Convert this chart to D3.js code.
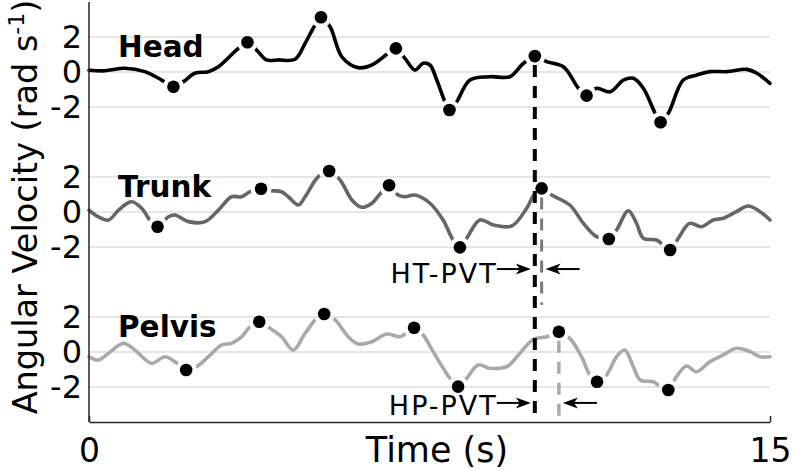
<!DOCTYPE html>
<html><head><meta charset="utf-8">
<script src="https://cdn.jsdelivr.net/npm/d3@7"></script>
<style>body{margin:0;background:#fff}svg{display:block}text{font-family:"DejaVu Sans",sans-serif}</style>
</head><body><svg id="c" width="792" height="471"></svg>
<script>
// ---- data ----
const xTicks = [0, 15];
const yTicks = [-2, 0, 2];
const panelNames = ["Head", "Trunk", "Pelvis"];
const headT = [0,0.35,0.79,1.23,1.60,2.08,2.33,2.63,2.85,3.29,3.69,3.91,4.17,4.54,4.76,4.98,5.31,5.57,5.93,6.23,6.59,6.96,7.18,7.36,7.51,7.66,7.84,8.10,8.39,8.83,9.27,9.57,10.08,10.45,10.78,11.18,11.48,11.77,11.99,12.21,12.47,12.76,13.09,13.39,13.68,14.05,14.49,14.71,15.0];
const headV = [0.1,0.07,0.21,0.02,-0.46,-0.55,-0.07,0.02,0.30,1.35,1.26,0.69,0.69,0.73,1.64,2.69,2.59,0.87,0.25,0.40,1.07,0.78,0.11,0.50,0.40,-0.46,-1.70,-1.70,-0.46,-0.27,-0.27,0.50,0.59,0.30,-0.93,-0.93,-1.13,-0.46,-0.36,-0.93,-2.36,-2.36,-0.46,-0.17,0.02,0.02,0.15,-0.07,-0.65];
const headPeakT = [1.86,3.49,5.11,6.76,7.94,9.82,10.96,12.59];
const headPeakV = [-0.84,1.70,3.13,1.35,-2.17,0.91,-1.35,-2.87];
const trunkT = [0,0.20,0.43,0.65,0.94,1.16,1.34,1.75,1.89,2.19,2.56,2.85,3.14,3.36,3.55,4.02,4.24,4.39,4.61,4.76,5.05,5.53,5.79,6.01,6.23,6.45,6.81,6.96,7.18,7.51,7.80,8.02,8.32,8.61,8.91,9.31,9.64,9.82,10.19,10.59,10.89,11.18,11.62,11.88,12.06,12.21,12.50,12.65,12.98,13.23,13.49,13.75,13.97,14.26,14.52,14.78,15.0];
const trunkV = [0.11,-0.27,-0.46,0.11,0.59,0.21,-0.46,-0.27,-0.17,-0.55,-0.55,0.11,0.87,0.87,1.16,1.22,1.16,0.87,0.40,0.87,2.02,1.83,0.69,0.27,0.50,1.16,0.97,0.87,0.97,0.50,-0.46,-1.60,-1.50,-0.46,-0.74,-0.80,0.21,1.07,0.97,0.40,-0.65,-1.41,-1.03,0.07,-0.65,-1.50,-1.60,-1.89,-1.50,-0.65,-0.84,-0.46,-0.36,0.02,0.34,0.02,-0.46];
const trunkPeakT = [1.51,3.79,5.29,6.61,8.17,9.97,11.45,12.80];
const trunkPeakV = [-0.84,1.33,2.34,1.53,-2.02,1.35,-1.54,-2.17];
const pelvisT = [0,0.20,0.43,0.76,1.01,1.38,1.67,1.89,2.37,2.63,2.92,3.14,3.36,3.55,3.99,4.24,4.50,4.76,5.02,5.42,5.71,5.93,6.23,6.56,6.85,7.03,7.36,7.58,7.95,8.32,8.57,8.83,9.20,9.46,9.79,10.08,10.59,10.85,11.03,11.40,11.62,11.80,11.99,12.14,12.43,12.58,12.94,13.16,13.38,13.68,13.97,14.26,14.56,14.78,15.0];
const pelvisV = [-0.27,-0.46,-0.07,0.50,0.11,-0.65,-0.27,-0.55,-0.84,-0.27,0.40,0.50,0.87,1.45,1.35,0.87,0.11,1.07,1.93,1.83,0.87,0.46,0.59,1.03,0.87,1.16,0.97,0.02,-1.50,-1.50,-0.74,-0.93,-0.84,-0.17,0.73,0.87,0.78,-0.27,-1.31,-1.31,-0.27,0.11,-0.84,-1.60,-1.70,-1.98,-1.41,-0.80,-1.13,-0.55,-0.17,0.21,0.02,-0.27,-0.27];
const pelvisPeakT = [2.14,3.75,5.18,7.16,8.13,10.35,11.19,12.76];
const pelvisPeakV = [-1.03,1.73,2.17,1.39,-1.98,1.16,-1.70,-2.17];
const pvtLabels = ["HT-PVT", "HP-PVT"];

// ---- build ----
const svg = d3.select("#c");
const W = 792, H = 471;
const x = d3.scaleLinear().domain([0, 15]).range([89, 770]);
const colors = ["#000000", "#666666", "#a9a9a9"];
const series = [
  {t: headT, v: headV, pt: headPeakT, pv: headPeakV},
  {t: trunkT, v: trunkV, pt: trunkPeakT, pv: trunkPeakV},
  {t: pelvisT, v: pelvisV, pt: pelvisPeakT, pv: pelvisPeakV}
];
const ys = [0,1,2].map(i => d3.scaleLinear().domain([-2, 2]).range([72 + 140*i + 35, 72 + 140*i - 35]));
const axisBottom = 422;

svg.append("rect").attr("width", W).attr("height", H).attr("fill", "#fff");

// grid
series.forEach((s, i) => {
  const y = ys[i];
  svg.append("g").selectAll("line").data(yTicks).join("line")
    .attr("x1", x(0)).attr("x2", x(15)).attr("y1", d => y(d)).attr("y2", d => y(d))
    .attr("stroke", "#dedede").attr("stroke-width", 1.5);
  const ax = d3.axisLeft(y).tickValues(yTicks).tickSize(0).tickPadding(7).tickFormat(d3.format("d"));
  const g = svg.append("g").attr("transform", `translate(${x(0)},0)`).call(ax);
  g.select(".domain").remove();
  g.selectAll("text").attr("font-size", 32).attr("fill", "#000").attr("font-family", "DejaVu Sans").text(d => d < 0 ? "-" + Math.abs(d) : d);
});

// mask for gaps around dots
const defs = svg.append("defs");
const mask = defs.append("mask").attr("id", "gapMask").attr("maskUnits", "userSpaceOnUse")
  .attr("x", 0).attr("y", 0).attr("width", W).attr("height", H);
mask.append("rect").attr("width", W).attr("height", H).attr("fill", "#fff");
series.forEach((s, i) => {
  mask.selectAll(null).data(s.pt.map((t, k) => [t, s.pv[k]])).join("circle")
    .attr("cx", d => x(d[0])).attr("cy", d => ys[i](d[1])).attr("r", 10.5).attr("fill", "#000");
});

// lines
const lineG = svg.append("g").attr("mask", "url(#gapMask)");
series.forEach((s, i) => {
  const pts = s.t.map((t, k) => [t, s.v[k]]).concat(s.pt.map((t, k) => [t, s.pv[k]])).sort((a, b) => a[0] - b[0]);
  const line = d3.line().x(d => x(d[0])).y(d => ys[i](d[1])).curve(d3.curveCatmullRom.alpha(0.5));
  lineG.append("path").attr("d", line(pts)).attr("fill", "none")
    .attr("stroke", colors[i]).attr("stroke-width", 3.6).attr("stroke-linejoin", "round").attr("stroke-linecap", "round");
});

// dots
series.forEach((s, i) => {
  svg.append("g").selectAll("circle").data(s.pt.map((t, k) => [t, s.pv[k]])).join("circle")
    .attr("cx", d => x(d[0])).attr("cy", d => ys[i](d[1])).attr("r", 6.3).attr("fill", "#000");
});

// dashed PVT lines
const hT = headPeakT[5], tT = trunkPeakT[5], pT = pelvisPeakT[5];
svg.append("line").attr("x1", x(hT)).attr("x2", x(hT)).attr("y1", ys[0](headPeakV[5]) + 9).attr("y2", axisBottom)
  .attr("stroke", "#000").attr("stroke-width", 4).attr("stroke-dasharray", "12,9");
svg.append("line").attr("x1", x(tT)).attr("x2", x(tT)).attr("y1", ys[1](trunkPeakV[5]) + 9).attr("y2", ys[1](-5.3))
  .attr("stroke", "#7a7a7a").attr("stroke-width", 3).attr("stroke-dasharray", "12,9");
svg.append("line").attr("x1", x(pT)).attr("x2", x(pT)).attr("y1", ys[2](pelvisPeakV[5]) + 9).attr("y2", axisBottom)
  .attr("stroke", "#a9a9a9").attr("stroke-width", 3.5).attr("stroke-dasharray", "12,9");

// annotations with arrows
function arrow(tipX, y, dir, len) {
  const g = svg.append("g");
  const tail = tipX - dir * len;
  g.append("line").attr("x1", tail).attr("x2", tipX - dir * 8).attr("y1", y).attr("y2", y).attr("stroke", "#000").attr("stroke-width", 2);
  g.append("path").attr("d", `M${tipX},${y} L${tipX - dir*15},${y-5.5} L${tipX - dir*11},${y} L${tipX - dir*15},${y+5.5} Z`).attr("fill", "#000");
}
const annos = [
  {label: pvtLabels[0], panel: 1, ty: -4.06, ay: -3.26, t1: hT, t2: tT},
  {label: pvtLabels[1], panel: 2, ty: -3.6, ay: -2.91, t1: hT, t2: pT}
];
annos.forEach(a => {
  const y = ys[a.panel];
  svg.append("text").attr("x", x(a.t1) - 37).attr("y", y(a.ty)).attr("text-anchor", "end")
    .attr("font-size", 27).attr("letter-spacing", 2).text(a.label);
  arrow(x(a.t1) - 4, y(a.ay), 1, 34);
  arrow(x(a.t2) + 4, y(a.ay), -1, 34);
});

// panel labels
panelNames.forEach((n, i) => {
  svg.append("text").attr("x", 118).attr("y", ys[i](0) - 15).attr("font-size", 29.5).attr("font-weight", "bold").text(n);
});

// axes lines
svg.append("line").attr("x1", x(0)).attr("x2", x(0)).attr("y1", 2).attr("y2", axisBottom).attr("stroke", "#262626").attr("stroke-width", 1.5);
const xa = d3.axisBottom(x).tickValues(xTicks).tickSizeInner(-6).tickSizeOuter(0).tickPadding(0);
const xg = svg.append("g").attr("transform", `translate(0,${axisBottom})`).call(xa);
xg.select(".domain").attr("stroke", "#262626").attr("stroke-width", 1.5);
xg.selectAll(".tick line").attr("stroke", "#262626").attr("stroke-width", 1.5);
xg.selectAll("text").attr("font-size", 33).attr("fill", "#000").attr("font-family", "DejaVu Sans").attr("y", 40).attr("dy", null);

// axis titles
svg.append("text").attr("x", 437).attr("y", 462).attr("text-anchor", "middle").attr("font-size", 35).text("Time (s)");
const yl = svg.append("text").attr("transform", "translate(37,207) rotate(-90)").attr("text-anchor", "middle").attr("font-size", 33.5);
yl.append("tspan").text("Angular Velocity (rad s");
yl.append("tspan").attr("font-size", 22).attr("dy", -13).text("-1");
yl.append("tspan").attr("dy", 13).text(")");
</script></body></html>
